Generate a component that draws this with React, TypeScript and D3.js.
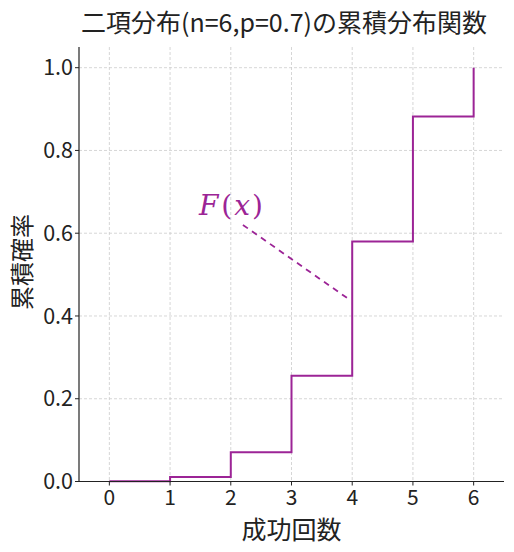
import React from "react";
import * as d3 from "d3";

const successes = [0, 1, 2, 3, 4, 5, 6];
const cdfValues = [0.000729, 0.010935, 0.07047, 0.25569, 0.57983, 0.882351, 1.0];
const xTicks = [0, 1, 2, 3, 4, 5, 6];
const yTicks = [0, 0.2, 0.4, 0.6, 0.8, 1.0];
const titleText = "二項分布(n=6,p=0.7)の累積分布関数";
const xLabel = "成功回数";
const yLabel = "累積確率";
const annotationFrom = { x: 2.2, y: 0.62 };
const annotationTo = { x: 3.95, y: 0.44 };

const W = 514, H = 552;
const left = 79, right = 504, top = 47, bottom = 481.5;
const color = "#9c2496";
const font = "'Noto Sans CJK JP', 'Noto Sans', sans-serif";

export default function App() {
  const x = d3.scaleLinear().domain([-0.5, 6.5]).range([left, right]);
  const y = d3.scaleLinear().domain([0, 1.05]).range([bottom, top]);
  const line = d3
    .line<number>()
    .x((_, i) => x(successes[i]))
    .y((d) => y(d))
    .curve(d3.curveStepAfter);
  const path = line(cdfValues) || "";

  return (
    <svg width={W} height={H} style={{ position: "absolute", left: 0, top: 0 }}>
      <rect width={W} height={H} fill="white" />
      {xTicks.map((t) => (
        <line key={"gx" + t} x1={x(t)} x2={x(t)} y1={top} y2={bottom} stroke="#cccccc" strokeWidth={0.8} strokeDasharray="3,2" />
      ))}
      {yTicks.map((t) => (
        <line key={"gy" + t} x1={left} x2={right} y1={y(t)} y2={y(t)} stroke="#cccccc" strokeWidth={0.8} strokeDasharray="3,2" />
      ))}
      <path d={path} fill="none" stroke={color} strokeWidth={2} />
      <line
        x1={x(annotationFrom.x)}
        y1={y(annotationFrom.y)}
        x2={x(annotationTo.x)}
        y2={y(annotationTo.y)}
        stroke={color}
        strokeWidth={1.8}
        strokeDasharray="6,5"
      />
      <text
        x={x(annotationFrom.x) - 44}
        y={y(annotationFrom.y) - 10}
        fill={color}
        fontSize={28}
        fontStyle="italic"
        fontFamily="'DejaVu Serif', serif"
      >
        <tspan>F</tspan>
        <tspan fontStyle="normal" dx={3}>(</tspan>
        <tspan dx={2}>x</tspan>
        <tspan fontStyle="normal" dx={2}>)</tspan>
      </text>
      <line x1={left} x2={left} y1={top} y2={bottom} stroke="#222" strokeWidth={1.2} />
      <line x1={left} x2={right} y1={bottom} y2={bottom} stroke="#222" strokeWidth={1.2} />
      {xTicks.map((t) => (
        <g key={"tx" + t}>
          <line x1={x(t)} x2={x(t)} y1={bottom} y2={bottom + 4} stroke="#222" strokeWidth={1} />
          <text x={x(t)} y={bottom + 23} textAnchor="middle" fontSize={21} fontFamily={font} fill="#222">
            {t}
          </text>
        </g>
      ))}
      {yTicks.map((t) => (
        <g key={"ty" + t}>
          <line x1={left - 4} x2={left} y1={y(t)} y2={y(t)} stroke="#222" strokeWidth={1} />
          <text x={left - 6} y={y(t)} dy="0.35em" textAnchor="end" fontSize={21.5} fontFamily={font} fill="#222">
            {t.toFixed(1)}
          </text>
        </g>
      ))}
      <text x={284} y={32} textAnchor="middle" fontSize={25} fontFamily={font} fill="#222">
        {titleText}
      </text>
      <text x={(left + right) / 2} y={539} textAnchor="middle" fontSize={25} fontFamily={font} fill="#222">
        {xLabel}
      </text>
      <text
        transform={`translate(31, 262) rotate(-90)`}
        textAnchor="middle"
        fontSize={24}
        fontFamily={font}
        fill="#222"
      >
        {yLabel}
      </text>
    </svg>
  );
}
